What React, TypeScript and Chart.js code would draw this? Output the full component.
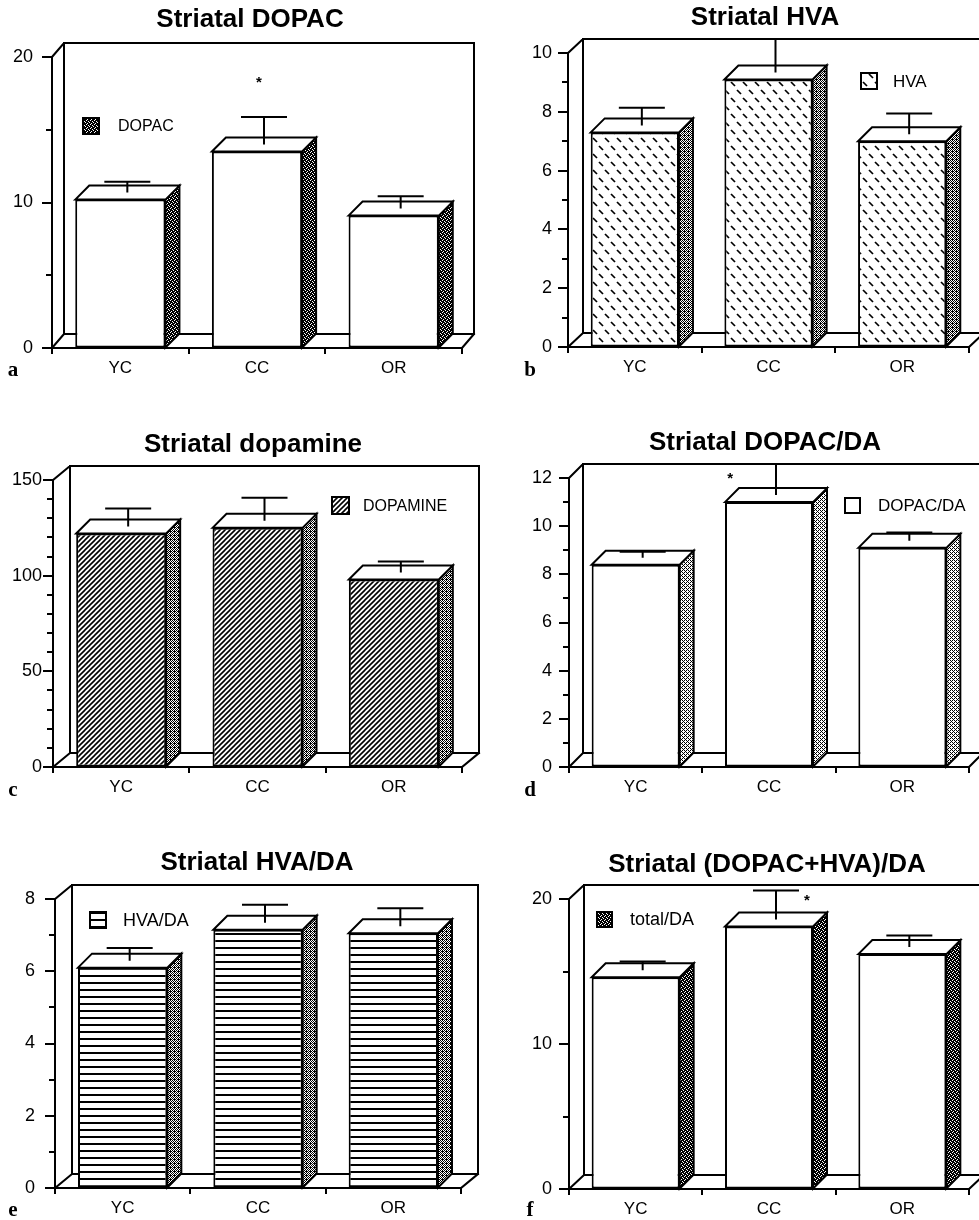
import React, { useEffect, useRef } from "react";
import { Chart, registerables } from "chart.js";

Chart.register(...registerables);

// ---------------- DATA ----------------
const categories = ["YC", "CC", "OR"];

const dopacMeans = [10.2, 13.5, 9.1];
const dopacErrors = [0.75, 1.9, 0.85];
const dopacStars = [null, 18.4, null];
const dopacTicks = [0, 10, 20];

const hvaMeans = [7.3, 9.1, 7.0];
const hvaErrors = [0.6, 1.5, 0.7];
const hvaStars = [null, null, null];
const hvaTicks = [0, 2, 4, 6, 8, 10];

const dopamineMeans = [122, 125, 98];
const dopamineErrors = [9.5, 12, 5.7];
const dopamineStars = [null, null, null];
const dopamineTicks = [0, 50, 100, 150];

const dopacDaMeans = [8.4, 11.0, 9.1];
const dopacDaErrors = [0.25, 1.9, 0.35];
const dopacDaStars = [null, 12.1, null];
const dopacDaTicks = [0, 2, 4, 6, 8, 10, 12];

const hvaDaMeans = [6.1, 7.15, 7.05];
const hvaDaErrors = [0.35, 0.5, 0.5];
const hvaDaStars = [null, null, null];
const hvaDaTicks = [0, 2, 4, 6, 8];

const totalDaMeans = [14.6, 18.1, 16.2];
const totalDaErrors = [0.6, 2.0, 0.8];
const totalDaStars = [null, 20.1, null];
const totalDaTicks = [0, 10, 20];

// ---------------- STYLE ----------------
const FONT = "'Liberation Sans', Arial, Helvetica, sans-serif";
const SERIF = "'Liberation Serif', 'Times New Roman', serif";
const DX = 14;
const DY = -14;
const Y_AXIS_W = 50;
const X_AXIS_H = 30;

type PatKind = "white" | "dark" | "mid" | "light" | "dash" | "hatch" | "hlines";

interface PanelCfg {
  letter: string;
  title: string;
  legend: string;
  means: number[];
  errors: number[];
  stars: (number | null)[];
  ticks: number[];
  minorStep: number;
  front: PatKind;
  side: PatKind;
  legendFill: PatKind;
  cx: number;
  cy: number;
  cw: number;
  ch: number;
  pad: { left: number; right: number; top: number; bottom: number };
  titleX: number;
  titleY: number;
  tickGap: number;
  wallDx: number;
  legendX: number;
  legendY: number;
  legendBox: number;
  legendFont: number;
  legendGap: number;
  starDx: number;
  letterX: number;
  letterY: number;
}

const panels: PanelCfg[] = [
  {
    letter: "a", title: "Striatal DOPAC", legend: "DOPAC",
    means: dopacMeans, errors: dopacErrors, stars: dopacStars, ticks: dopacTicks, minorStep: 5,
    front: "white", side: "dark", legendFill: "dark",
    cx: 0, cy: 0, cw: 502, ch: 400,
    pad: { left: 2, right: 40, top: 57, bottom: 22 }, titleX: 250, titleY: 20,
    tickGap: 19, wallDx: 12, legendX: 31, legendY: 61, legendBox: 16, legendFont: 16, legendGap: 35,
    starDx: 0.02, letterX: 13, letterY: 371,
  },
  {
    letter: "b", title: "Striatal HVA", legend: "HVA",
    means: hvaMeans, errors: hvaErrors, stars: hvaStars, ticks: hvaTicks, minorStep: 1,
    front: "dash", side: "mid", legendFill: "dash",
    cx: 490, cy: 0, cw: 550, ch: 400,
    pad: { left: 28, right: 71, top: 53, bottom: 23 }, titleX: 275, titleY: 18,
    tickGap: 16, wallDx: 15, legendX: 293, legendY: 20, legendBox: 16, legendFont: 17, legendGap: 32,
    starDx: 0, letterX: 40, letterY: 371,
  },
  {
    letter: "c", title: "Striatal dopamine", legend: "DOPAMINE",
    means: dopamineMeans, errors: dopamineErrors, stars: dopamineStars, ticks: dopamineTicks, minorStep: 10,
    front: "hatch", side: "mid", legendFill: "hatch",
    cx: 0, cy: 400, cw: 502, ch: 400,
    pad: { left: 3, right: 40, top: 80, bottom: 3 }, titleX: 253, titleY: 45,
    tickGap: 11, wallDx: 17, legendX: 279, legendY: 17, legendBox: 17, legendFont: 16, legendGap: 31,
    starDx: 0, letterX: 13, letterY: 391,
  },
  {
    letter: "d", title: "Striatal DOPAC/DA", legend: "DOPAC/DA",
    means: dopacDaMeans, errors: dopacDaErrors, stars: dopacDaStars, ticks: dopacDaTicks, minorStep: 1,
    front: "white", side: "light", legendFill: "white",
    cx: 490, cy: 400, cw: 550, ch: 400,
    pad: { left: 29, right: 71, top: 78, bottom: 3 }, titleX: 275, titleY: 43,
    tickGap: 17, wallDx: 14, legendX: 276, legendY: 20, legendBox: 15, legendFont: 17, legendGap: 33,
    starDx: -0.44, letterX: 40, letterY: 391,
  },
  {
    letter: "e", title: "Striatal HVA/DA", legend: "HVA/DA",
    means: hvaDaMeans, errors: hvaDaErrors, stars: hvaDaStars, ticks: hvaDaTicks, minorStep: 1,
    front: "hlines", side: "mid", legendFill: "hlines",
    cx: 0, cy: 800, cw: 502, ch: 420,
    pad: { left: 5, right: 41, top: 99, bottom: 2 }, titleX: 257, titleY: 63,
    tickGap: 20, wallDx: 17, legendX: 35, legendY: 13, legendBox: 16, legendFont: 18, legendGap: 33,
    starDx: 0, letterX: 13, letterY: 411,
  },
  {
    letter: "f", title: "Striatal (DOPAC+HVA)/DA", legend: "total/DA",
    means: totalDaMeans, errors: totalDaErrors, stars: totalDaStars, ticks: totalDaTicks, minorStep: 5,
    front: "white", side: "dark", legendFill: "dark",
    cx: 490, cy: 800, cw: 550, ch: 420,
    pad: { left: 29, right: 71, top: 99, bottom: 1 }, titleX: 277, titleY: 65,
    tickGap: 17, wallDx: 15, legendX: 28, legendY: 13, legendBox: 15, legendFont: 18, legendGap: 33,
    starDx: 0.43, letterX: 40, letterY: 411,
  },
];

// ---------------- PATTERNS ----------------
function makeTile(w: number, h: number, draw: (c: CanvasRenderingContext2D) => void) {
  const cv = document.createElement("canvas");
  cv.width = w;
  cv.height = h;
  const c = cv.getContext("2d")!;
  c.fillStyle = "#fff";
  c.fillRect(0, 0, w, h);
  c.fillStyle = "#000";
  c.strokeStyle = "#000";
  draw(c);
  return cv;
}

function bitmapTile(rows: string[]) {
  return makeTile(rows[0].length, rows.length, (c) => {
    rows.forEach((r, y) => {
      for (let x = 0; x < r.length; x++) if (r[x] === "1") c.fillRect(x, y, 1, 1);
    });
  });
}

function makePattern(ctx: CanvasRenderingContext2D, kind: PatKind): CanvasPattern | string {
  let tile: HTMLCanvasElement | null = null;
  if (kind === "white") return "#fff";
  if (kind === "dark") tile = bitmapTile(["1101", "0111", "1011", "1110"]);
  if (kind === "mid") tile = bitmapTile(["1010", "0101", "1010", "0111"]);
  if (kind === "light") tile = bitmapTile(["1010", "0100", "1010", "0001"]);
  if (kind === "dash")
    tile = makeTile(12, 16, (c) => {
      c.lineWidth = 1.7;
      const dash = (x: number, y: number) => {
        c.beginPath();
        c.moveTo(x - 2, y - 2);
        c.lineTo(x + 2, y + 2);
        c.stroke();
      };
      dash(3, 4);
      dash(9, 12);
    });
  if (kind === "hatch")
    tile = makeTile(5, 5, (c) => {
      c.lineWidth = 1.6;
      for (const k of [0, 5, 10]) {
        c.beginPath();
        c.moveTo(-2, k + 2);
        c.lineTo(k + 2, -2);
        c.stroke();
      }
    });
  if (kind === "hlines")
    tile = makeTile(4, 7, (c) => {
      c.fillRect(0, 0, 4, 2);
    });
  if (!tile) return "#fff";
  return ctx.createPattern(tile, "repeat") || "#fff";
}

// ---------------- 3D PLUGIN ----------------
function threeDPlugin(cfg: PanelCfg, side: CanvasPattern | string, legendFill: CanvasPattern | string) {
  return {
    id: "threeD",
    beforeDatasetsDraw(chart: any) {
      const { ctx, chartArea: a } = chart;
      const yS = chart.scales.y;
      const y0 = a.bottom;
      const top = a.top;
      const w = cfg.wallDx;
      ctx.save();
      ctx.strokeStyle = "#000";
      ctx.lineWidth = 2;
      ctx.lineCap = "square";
      ctx.beginPath();
      ctx.moveTo(a.left, top);
      ctx.lineTo(a.left + w, top + DY);
      ctx.lineTo(a.right + w, top + DY);
      ctx.lineTo(a.right + w, y0 + DY);
      ctx.moveTo(a.left + w, top + DY);
      ctx.lineTo(a.left + w, y0 + DY);
      ctx.lineTo(a.right + w, y0 + DY);
      ctx.moveTo(a.left, y0);
      ctx.lineTo(a.left + w, y0 + DY);
      ctx.moveTo(a.right, y0);
      ctx.lineTo(a.right + w, y0 + DY);
      ctx.stroke();
      // y ticks (major long, minor short)
      ctx.lineCap = "butt";
      ctx.beginPath();
      yS.ticks.forEach((t: any) => {
        const y = Math.round(yS.getPixelForValue(t.value));
        const len = cfg.ticks.includes(t.value) ? 10 : 6;
        ctx.moveTo(a.left - len, y);
        ctx.lineTo(a.left, y);
      });
      ctx.stroke();
      // title
      ctx.fillStyle = "#000";
      ctx.font = `bold 26px ${FONT}`;
      ctx.textAlign = "center";
      ctx.textBaseline = "middle";
      ctx.fillText(cfg.title, cfg.titleX, cfg.titleY);
      ctx.restore();
    },
    afterDatasetsDraw(chart: any) {
      const { ctx, chartArea: a } = chart;
      const yS = chart.scales.y;
      const meta = chart.getDatasetMeta(0);
      ctx.save();
      ctx.strokeStyle = "#000";
      ctx.lineWidth = 2;
      ctx.lineJoin = "miter";
      meta.data.forEach((bar: any, i: number) => {
        const p = bar.getProps(["x", "y", "width", "base"], true);
        const x1 = p.x - p.width / 2;
        const x2 = p.x + p.width / 2;
        const yT = p.y;
        const yB = p.base;
        // side face
        ctx.beginPath();
        ctx.moveTo(x2, yT);
        ctx.lineTo(x2 + DX, yT + DY);
        ctx.lineTo(x2 + DX, yB + DY);
        ctx.lineTo(x2, yB);
        ctx.closePath();
        ctx.fillStyle = side;
        ctx.fill();
        ctx.stroke();
        // top face
        ctx.beginPath();
        ctx.moveTo(x1, yT);
        ctx.lineTo(x1 + DX, yT + DY);
        ctx.lineTo(x2 + DX, yT + DY);
        ctx.lineTo(x2, yT);
        ctx.closePath();
        ctx.fillStyle = "#fff";
        ctx.fill();
        ctx.stroke();
        // error bar (clipped at the back wall top)
        const ex = p.x + DX / 2;
        const eb = yT + DY / 2;
        const et = yS.getPixelForValue(cfg.means[i] + cfg.errors[i]) + DY / 2;
        ctx.save();
        ctx.beginPath();
        ctx.rect(0, a.top + DY, chart.width, chart.height);
        ctx.clip();
        ctx.beginPath();
        ctx.moveTo(ex, eb);
        ctx.lineTo(ex, et);
        ctx.moveTo(ex - 23, et);
        ctx.lineTo(ex + 23, et);
        ctx.stroke();
        ctx.restore();
        // significance star
        const s = cfg.stars[i];
        if (s !== null && s !== undefined) {
          ctx.fillStyle = "#000";
          ctx.font = `bold 15px ${FONT}`;
          ctx.textAlign = "center";
          ctx.textBaseline = "middle";
          ctx.fillText("*", p.x + cfg.starDx * p.width, yS.getPixelForValue(s) + 3);
        }
      });
      // legend
      const lx = a.left + cfg.legendX;
      const ly = a.top + cfg.legendY;
      const b = cfg.legendBox;
      ctx.fillStyle = legendFill;
      ctx.fillRect(lx, ly, b, b);
      ctx.strokeRect(lx, ly, b, b);
      ctx.fillStyle = "#000";
      ctx.font = `${cfg.legendFont}px ${FONT}`;
      ctx.textAlign = "left";
      ctx.textBaseline = "middle";
      ctx.fillText(chart.data.datasets[0].label, lx + cfg.legendGap, ly + b / 2 + 1);
      // panel letter
      ctx.font = `bold 21px ${SERIF}`;
      ctx.textAlign = "center";
      ctx.fillText(cfg.letter, cfg.letterX, cfg.letterY);
      ctx.restore();
    },
  };
}

// ---------------- COMPONENTS ----------------
function PanelChart({ cfg }: { cfg: PanelCfg }) {
  const ref = useRef<HTMLCanvasElement | null>(null);
  useEffect(() => {
    const canvas = ref.current;
    if (!canvas) return;
    const ctx = canvas.getContext("2d")!;
    const front = makePattern(ctx, cfg.front);
    const side = makePattern(ctx, cfg.side);
    const legendFill = makePattern(ctx, cfg.legendFill);
    const yMax = cfg.ticks[cfg.ticks.length - 1];
    const chart = new Chart(ctx, {
      type: "bar",
      data: {
        labels: categories,
        datasets: [
          {
            label: cfg.legend,
            data: cfg.means,
            backgroundColor: front as any,
            borderColor: "#000",
            borderWidth: 2,
            borderSkipped: false,
            barPercentage: 0.66,
            categoryPercentage: 1,
          },
        ],
      },
      options: {
        animation: false,
        responsive: false,
        maintainAspectRatio: false,
        devicePixelRatio: 1,
        events: [],
        layout: { padding: cfg.pad },
        plugins: {
          legend: { display: false },
          tooltip: { enabled: false },
          title: { display: false },
        },
        scales: {
          x: {
            type: "category",
            offset: true,
            grid: {
              display: true,
              drawOnChartArea: false,
              drawTicks: true,
              tickLength: 6,
              offset: true,
              color: "#000",
              lineWidth: 2,
            },
            border: { display: true, color: "#000", width: 2 },
            ticks: {
              color: "#000",
              font: { family: FONT, size: 17 },
              padding: 4,
              maxRotation: 0,
              autoSkip: false,
            },
            afterFit: (s: any) => {
              s.height = X_AXIS_H;
            },
          },
          y: {
            min: 0,
            max: yMax,
            ticks: {
              stepSize: cfg.minorStep,
              color: "#000",
              font: { family: FONT, size: 18 },
              padding: cfg.tickGap,
              autoSkip: false,
              callback: (v: any) => (cfg.ticks.includes(Number(v)) ? String(v) : ""),
            },
            grid: { display: true, drawOnChartArea: false, drawTicks: false },
            border: { display: true, color: "#000", width: 2 },
            afterFit: (s: any) => {
              s.width = Y_AXIS_W;
            },
          },
        },
      } as any,
      plugins: [threeDPlugin(cfg, side, legendFill)],
    });
    return () => chart.destroy();
  }, [cfg]);
  return (
    <canvas
      ref={ref}
      width={cfg.cw}
      height={cfg.ch}
      style={{ position: "absolute", left: cfg.cx, top: cfg.cy, width: cfg.cw, height: cfg.ch }}
    />
  );
}

export default function App() {
  return (
    <div
      style={{
        position: "absolute",
        left: 0,
        top: 0,
        width: 979,
        height: 1220,
        overflow: "hidden",
        background: "#fff",
      }}
    >
      {panels.map((p) => (
        <PanelChart key={p.letter} cfg={p} />
      ))}
    </div>
  );
}
